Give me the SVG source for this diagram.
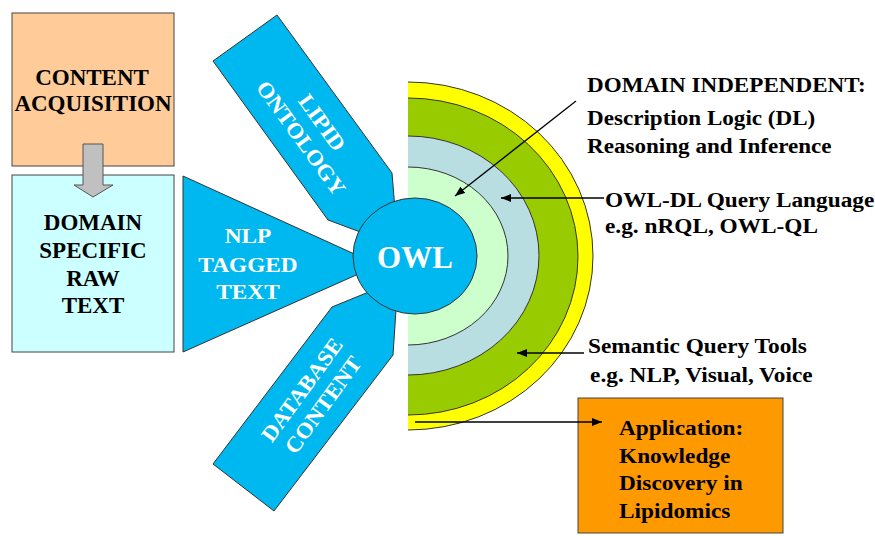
<svg xmlns="http://www.w3.org/2000/svg" width="875" height="536" viewBox="0 0 875 536">
<defs>
<marker id="ah" viewBox="0 0 10 8" refX="10" refY="4" markerWidth="10" markerHeight="8" markerUnits="userSpaceOnUse" orient="auto">
<path d="M0,0 L10,4 L0,8 Z" fill="#000"/>
</marker>
</defs>
<style>
text{font-family:'Liberation Serif','DejaVu Serif',serif;font-weight:bold;}
.dk{fill:#000;font-size:23px;text-anchor:middle;}
.wh{fill:#fff;font-size:22px;text-anchor:middle;}
.lbl{fill:#000;font-size:22px;}
.blue{fill:#00B8F0;stroke:#333;stroke-width:1;}
.arc{fill:none;stroke:#333;stroke-width:1;}
.con{fill:none;stroke:#000;stroke-width:1.3;marker-end:url(#ah);}
</style>
<rect width="875" height="536" fill="#fff"/>

<g id="content-acquisition">
<rect x="12" y="13" width="162" height="153" fill="#FFCC99" stroke="#444" stroke-width="1"/>
<text class="dk" x="92" y="85">CONTENT</text>
<text class="dk" x="93" y="111">ACQUISITION</text>
</g>

<g id="domain-specific">
<rect x="12" y="175" width="162" height="177" fill="#CCFFFF" stroke="#444" stroke-width="1"/>
<text class="dk" x="93" y="230">DOMAIN</text>
<text class="dk" x="93" y="258">SPECIFIC</text>
<text class="dk" x="93" y="286">RAW</text>
<text class="dk" x="93" y="313">TEXT</text>
</g>

<g id="rings">
<path d="M408,82 A185,174 0 0 1 408,430 Z" fill="#FFFF00"/>
<path d="M408,82 A185,174 0 0 1 408,430" class="arc"/>
<path d="M408,98 A170,158.5 0 0 1 408,415 Z" fill="#99CC00"/>
<path d="M408,98 A170,158.5 0 0 1 408,415" class="arc"/>
<path d="M408,136 A131,119.5 0 0 1 408,375 Z" fill="#B8DEE2"/>
<path d="M408,136 A131,119.5 0 0 1 408,375" class="arc"/>
<path d="M408,167 A100,89 0 0 1 408,345 Z" fill="#CCFFCC"/>
<path d="M408,167 A100,89 0 0 1 408,345" class="arc"/>
</g>

<g id="lipid-ontology">
<polygon class="blue" points="213,61 277,15 392,173 398,246 328,220"/>
<g transform="translate(312,130) rotate(54) scale(1.05,1)">
<text class="wh" x="0" y="-5">LIPID</text>
<text class="wh" x="0" y="21">ONTOLOGY</text>
</g>
</g>

<g id="nlp-tagged-text">
<polygon class="blue" points="183,176 372,262 372,268 183,352"/>
<g transform="translate(248,0) scale(1.06,1)">
<text class="wh" x="0" y="243">NLP</text>
<text class="wh" x="0" y="272">TAGGED</text>
<text class="wh" x="0" y="299">TEXT</text>
</g>
</g>

<g id="database-content">
<polygon class="blue" points="213,464 274,511 393,355 398,280 332,307"/>
<g transform="translate(312,397) rotate(-54) scale(1.05,1)">
<text class="wh" x="0" y="-5">DATABASE</text>
<text class="wh" x="0" y="21">CONTENT</text>
</g>
</g>

<g id="owl">
<ellipse cx="415" cy="256" rx="62" ry="58" fill="#00B8F0" stroke="#333" stroke-width="1"/>
<text x="415" y="268" fill="#fff" font-size="31" text-anchor="middle">OWL</text>
</g>

<g id="domain-independent" transform="translate(587,0) scale(1.05,1)">
<text class="lbl" x="0" y="92">DOMAIN INDEPENDENT:</text>
<text class="lbl" x="0" y="125">Description Logic (DL)</text>
<text class="lbl" x="0" y="153">Reasoning and Inference</text>
</g>

<g id="owl-dl-query" transform="translate(605,0) scale(1.06,1)">
<text class="lbl" x="0" y="207">OWL-DL Query Language</text>
<text class="lbl" x="0" y="233">e.g. nRQL, OWL-QL</text>
</g>

<g id="semantic-query-tools" transform="translate(588,0) scale(1.06,1)">
<text class="lbl" x="0" y="353">Semantic Query Tools</text>
<text class="lbl" x="2" y="382">e.g. NLP, Visual, Voice</text>
</g>

<g id="application">
<rect x="578" y="398" width="205" height="135" fill="#FF9900" stroke="#444" stroke-width="1"/>
<g transform="translate(619,0) scale(1.06,1)">
<text class="lbl" x="0" y="435">Application:</text>
<text class="lbl" x="0" y="463">Knowledge</text>
<text class="lbl" x="0" y="490">Discovery in</text>
<text class="lbl" x="0" y="518">Lipidomics</text>
</g>
</g>

<g id="connectors">
<polygon points="83,144 103,144 103,185 113,185 93,197 74,185 83,185" fill="#C0C0C0" stroke="#555" stroke-width="1"/>
<line class="con" x1="576" y1="101" x2="455" y2="196"/>
<line class="con" x1="604" y1="198" x2="501" y2="198"/>
<line class="con" x1="584" y1="353" x2="517" y2="353"/>
<line class="con" x1="415" y1="422" x2="602" y2="422"/>
</g>
</svg>
